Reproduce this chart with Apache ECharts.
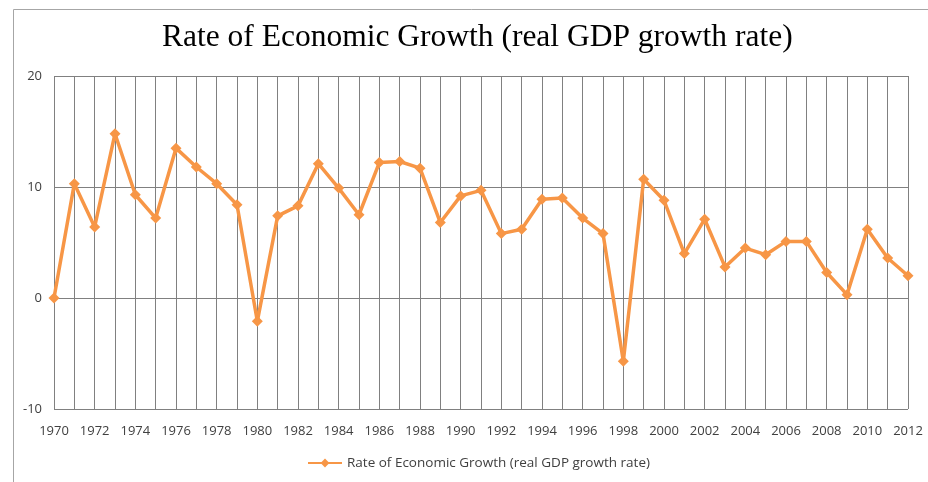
<!DOCTYPE html>
<html>
<head>
<meta charset="utf-8">
<script src="https://cdn.jsdelivr.net/npm/echarts@6/dist/echarts.min.js"></script>
<style>
html,body{margin:0;padding:0;background:#fff;}
#c{width:928px;height:482px;}
</style>
</head>
<body>
<div id="c"></div>
<script>
const years = [];
for (let y = 1970; y <= 2012; y++) years.push(String(y));
const growth = [0.0, 10.3, 6.4, 14.8, 9.3, 7.2, 13.5, 11.8, 10.3, 8.4,
  -2.1, 7.4, 8.3, 12.1, 9.9, 7.5, 12.2, 12.3, 11.7, 6.8,
  9.2, 9.7, 5.8, 6.2, 8.9, 9.0, 7.2, 5.8, -5.7, 10.7,
  8.8, 4.0, 7.1, 2.8, 4.5, 3.9, 5.1, 5.1, 2.3, 0.3,
  6.2, 3.6, 2.0];
const seriesName = 'Rate of Economic Growth (real GDP growth rate)';
const titleText = 'Rate of Economic Growth (real GDP growth rate)';
const yTicks = { min: -10, max: 20, interval: 10 };

const chart = echarts.init(document.getElementById('c'), null, { renderer: 'canvas' });
chart.setOption({
  backgroundColor: '#fff',
  animation: false,
  graphic: [{
    type: 'rect', left: 11, top: 7, shape: { width: 940, height: 500 },
    style: { fill: 'none', stroke: '#a6a6a6', lineWidth: 1 }, silent: true, z: -1
  }],
  title: {
    text: titleText, left: 157, top: 17,
    textStyle: { fontFamily: 'Liberation Serif', fontSize: 31.5, fontWeight: 'normal', color: '#000' }
  },
  legend: {
    bottom: 7, left: 302, itemWidth: 34, itemHeight: 11, itemGap: 4,
    textStyle: { fontFamily: 'Open Sans', fontSize: 13.5, color: '#404040' },
    data: [seriesName]
  },
  grid: { left: 54, right: 20, top: 76, bottom: 73, containLabel: false },
  xAxis: {
    type: 'category', data: years, boundaryGap: false,
    axisLine: { show: false }, axisTick: { show: false },
    axisLabel: { interval: 1, margin: 16, fontFamily: 'Open Sans', fontSize: 13, color: '#404040' },
    splitLine: { show: true, interval: 0, lineStyle: { color: '#808080', width: 1 } }
  },
  yAxis: {
    type: 'value', min: yTicks.min, max: yTicks.max, interval: yTicks.interval,
    axisLine: { show: false }, axisTick: { show: false },
    axisLabel: { margin: 12, fontFamily: 'Open Sans', fontSize: 13, color: '#404040' },
    splitLine: { show: true, lineStyle: { color: '#808080', width: 1 } }
  },
  series: [{
    name: seriesName, type: 'line', data: growth,
    symbol: 'diamond', symbolSize: 11, showAllSymbol: true,
    itemStyle: { color: '#F79646' },
    lineStyle: { color: '#F79646', width: 3.5 }
  }]
});
</script>
</body>
</html>
